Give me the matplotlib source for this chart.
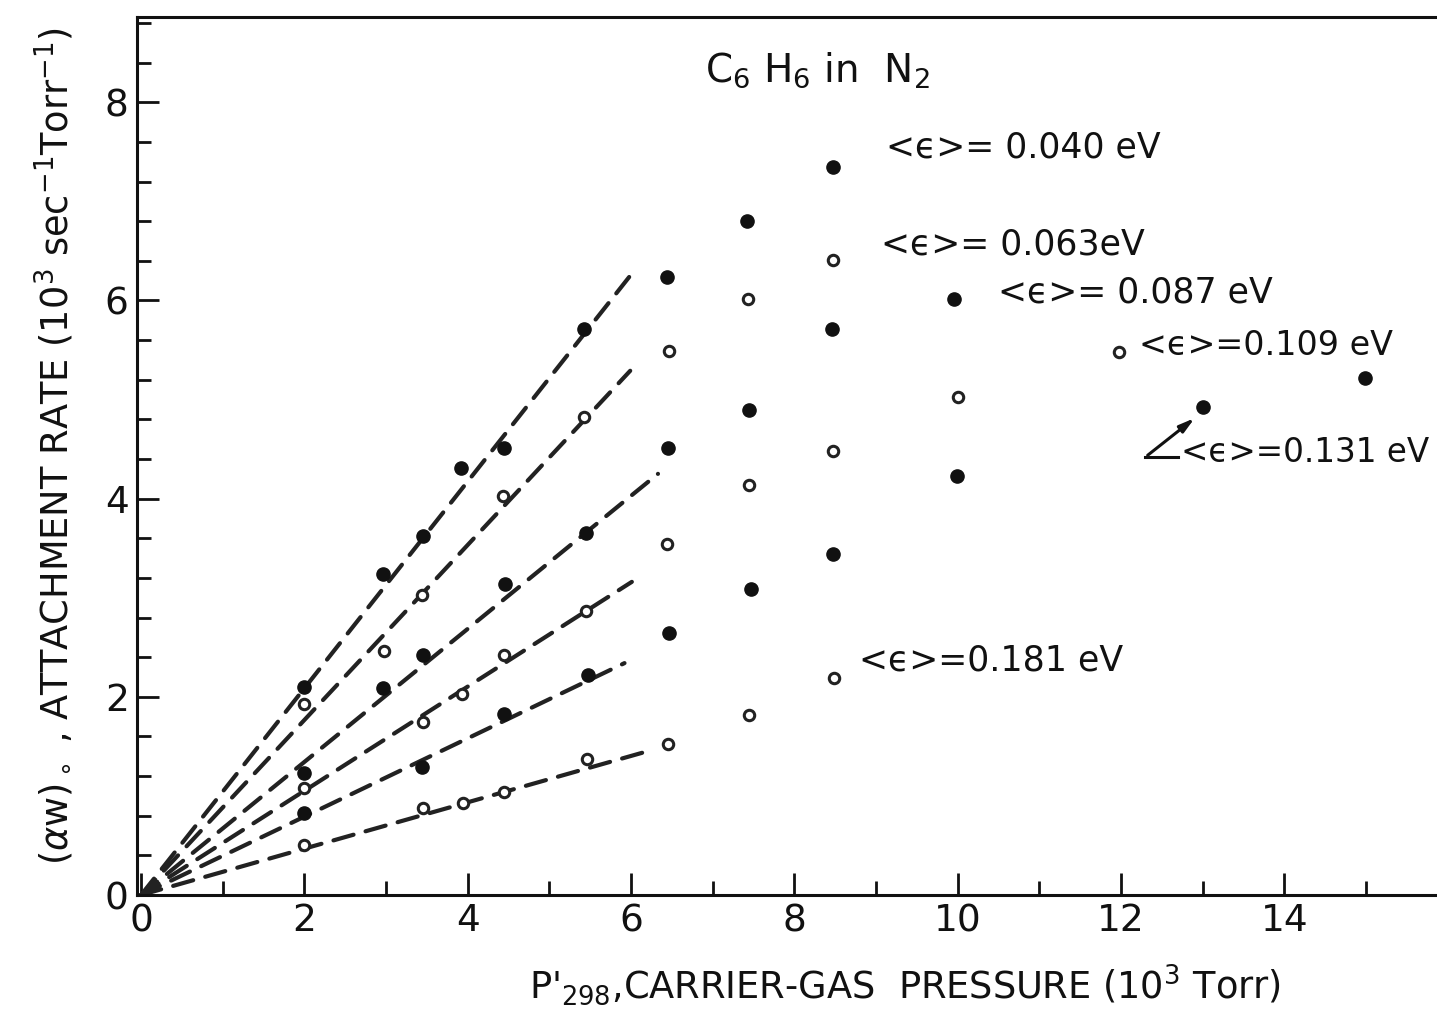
import matplotlib
matplotlib.use("Agg")
import matplotlib.pyplot as plt
from matplotlib.ticker import MultipleLocator

# attachment rate vs carrier-gas pressure, C6H6 in N2
x1 = [2.0, 2.96, 3.45, 3.92, 4.45, 5.43, 6.44, 7.42, 8.47]
y1 = [2.10, 3.24, 3.62, 4.31, 4.51, 5.71, 6.24, 6.80, 7.35]
x2 = [2.0, 2.97, 3.44, 4.43, 5.43, 6.46, 7.43, 8.47]
y2 = [1.93, 2.46, 3.03, 4.03, 4.82, 5.49, 6.01, 6.41]
x3 = [2.0, 2.96, 3.45, 4.46, 5.45, 6.45, 7.45, 8.46, 9.95]
y3 = [1.23, 2.09, 2.42, 3.14, 3.65, 4.51, 4.89, 5.71, 6.01]
x4 = [2.0, 3.45, 3.93, 4.45, 5.45, 6.44, 7.44, 8.47, 10.0, 11.97]
y4 = [1.08, 1.75, 2.03, 2.42, 2.87, 3.54, 4.14, 4.48, 5.03, 5.48]
x5 = [2.0, 3.44, 4.45, 5.47, 6.46, 7.47, 8.47, 9.99, 13.0, 14.99]
y5 = [0.83, 1.29, 1.83, 2.22, 2.64, 3.09, 3.44, 4.23, 4.92, 5.22]
x6 = [2.0, 3.45, 3.94, 4.44, 5.46, 6.45, 7.45, 8.48]
y6 = [0.50, 0.88, 0.93, 1.04, 1.37, 1.52, 1.82, 2.19]

series_x = [x1, x2, x3, x4, x5, x6]
series_y = [y1, y2, y3, y4, y5, y6]
filled = [True, False, True, False, True, False]

# dashed low-pressure lines, from the origin
fit_x_end = [6.0, 5.99, 6.33, 6.01, 5.92, 6.2]
fit_y_end = [6.26, 5.29, 4.25, 3.16, 2.34, 1.45]

label_text = [r"<ϵ>= 0.040 eV", r"<ϵ>= 0.063eV", r"<ϵ>= 0.087 eV",
              r"<ϵ>=0.109 eV", r"<ϵ>=0.131 eV", r"<ϵ>=0.181 eV"]
label_x = [9.12, 9.06, 10.49, 12.22, 12.74, 8.79]
label_y = [7.54, 6.56, 6.08, 5.55, 4.47, 2.37]
label_size = [25, 25, 25, 24, 23.5, 25]

plt.rcParams['font.family'] = ['DejaVu Sans']
plt.rcParams['mathtext.fontset'] = 'dejavusans'

fig = plt.figure(figsize=(14.37, 10.10), dpi=100)
ax = fig.add_axes([137 / 1437, 115 / 1010, 1 - 137 / 1437, 878 / 1010])

for xe, ye in zip(fit_x_end, fit_y_end):
    ln, = ax.plot([0, xe], [0, ye], color='#222222', lw=3.0,
                  solid_capstyle='round', dash_capstyle='round')
    ln.set_dashes([5.0, 3.0])

for xs, ys, f in zip(series_x, series_y, filled):
    if f:
        ax.plot(xs, ys, 'o', ms=9.5, color='#111111', mec='#111111', ls='none')
    else:
        ax.plot(xs, ys, 'o', ms=7.5, mfc='white', mec='#222222', mew=2.2, ls='none')

for t, lx, ly, fs in zip(label_text, label_x, label_y, label_size):
    ax.text(lx, ly, t, fontsize=fs, ha='left', va='center', color='#111111')

# pointer for the 0.131 eV label
ax.plot([12.30, 12.70], [4.42, 4.42], color='#111111', lw=2.2)
ax.annotate('', xy=(12.93, 4.83), xytext=(12.30, 4.42),
            arrowprops=dict(arrowstyle='-|>,head_length=0.9,head_width=0.25',
                            color='#111111', lw=2.2))

ax.text(6.9, 8.32, r"C$_6$ H$_6$ in  N$_2$", fontsize=28, ha='left', va='center',
        color='#111111')

ax.set_xlim(-0.05, 15.87)
ax.set_ylim(0, 8.86)
ax.xaxis.set_major_locator(MultipleLocator(2))
ax.xaxis.set_minor_locator(MultipleLocator(1))
ax.yaxis.set_major_locator(MultipleLocator(2))
ax.yaxis.set_minor_locator(MultipleLocator(0.4))
ax.tick_params(which='both', direction='in', width=2, colors='#111111',
               labelsize=27, pad=6)
ax.tick_params(which='major', length=16)
ax.tick_params(which='minor', length=10)
ax.spines['right'].set_visible(False)
for s in ['left', 'bottom', 'top']:
    ax.spines[s].set_linewidth(2.2)
    ax.spines[s].set_color('#111111')

fig.text(0.038, 0.558,
         r"($\alpha$w)$_\circ$ , ATTACHMENT RATE (10$^3$ sec$^{-1}$Torr$^{-1}$)",
         rotation=90, fontsize=26.5, ha='center', va='center', color='#111111')
fig.text(0.63, 0.025, r"P$'_{298}$,CARRIER-GAS  PRESSURE (10$^3$ Torr)",
         fontsize=26.5, ha='center', va='center', color='#111111')

fig.savefig('out.png', dpi=100, facecolor='white')
